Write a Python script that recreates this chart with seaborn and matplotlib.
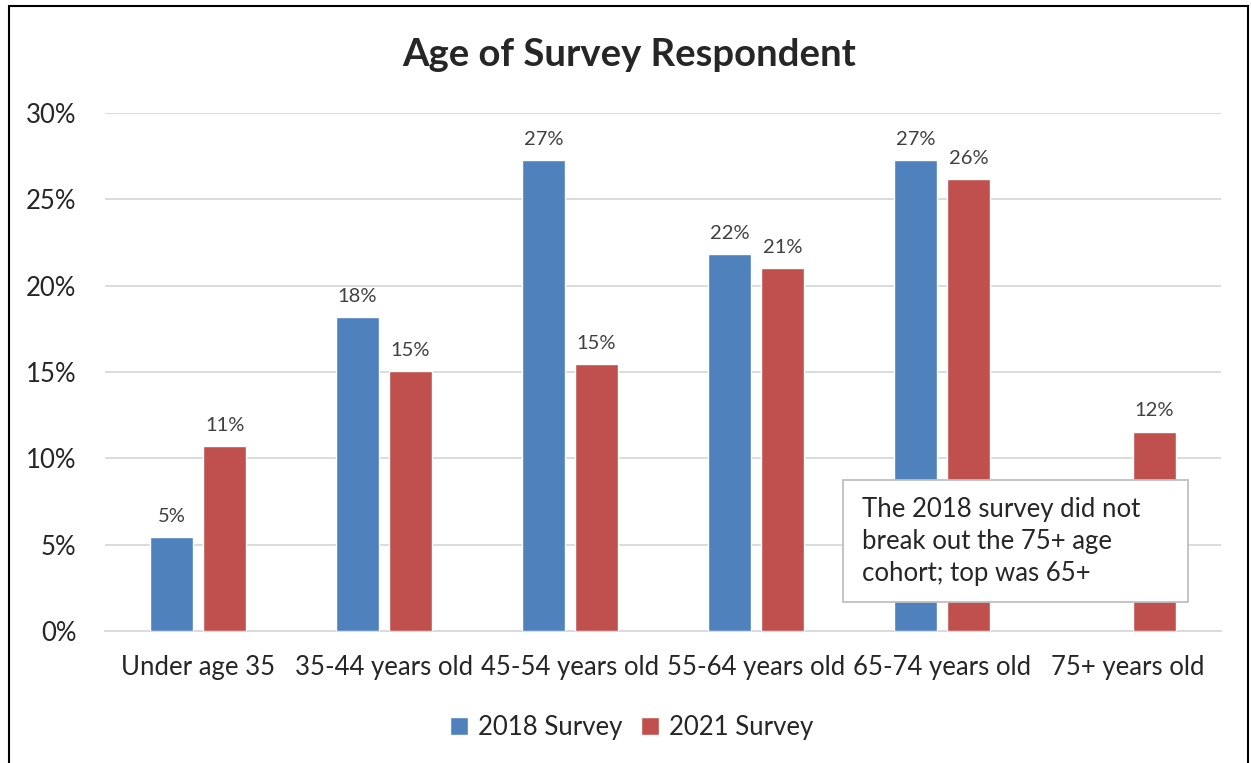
import numpy as np
import pandas as pd
import matplotlib
matplotlib.use('Agg')
import matplotlib.pyplot as plt
import seaborn as sb
from matplotlib.patches import Rectangle

# chart data
ages = ['Under age 35', '35-44 years old', '45-54 years old', '55-64 years old', '65-74 years old', '75+ years old']
surveys = ['2018 Survey', '2021 Survey']
pct_2018 = [0.0544, 0.1818, 0.2727, 0.2183, 0.2727, np.nan]
pct_2021 = [0.1071, 0.1505, 0.1546, 0.2102, 0.2617, 0.1154]
note = 'The 2018 survey did not\nbreak out the 75+ age\ncohort; top was 65+'

df = pd.DataFrame({'age': ages * 2,
                   'survey': [surveys[0]] * 6 + [surveys[1]] * 6,
                   'pct': pct_2018 + pct_2021})

sb.set_style('white')
plt.rcParams['font.family'] = ['Lato', 'DejaVu Sans']

fig = plt.figure(figsize=(12.51, 7.63), dpi=100)
ax = fig.add_axes([0.084, 0.173, 0.892, 0.679])

palette = {'2018 Survey': '#4F81BD', '2021 Survey': '#C0504D'}
sb.barplot(data=df, x='age', y='pct', hue='survey', order=ages, hue_order=surveys,
           palette=palette, width=0.57, gap=0.2, saturation=1, ax=ax, zorder=3)

# data labels
for cont in ax.containers:
    labels = ['' if np.isnan(v) else f'{v:.0%}' for v in cont.datavalues]
    ax.bar_label(cont, labels=labels, padding=9, fontsize=14.5, color='#404040')

ax.set_ylim(0, 0.30)
ax.set_yticks(np.arange(0, 0.31, 0.05))
ax.set_yticklabels([f'{int(round(t * 100))}%' for t in np.arange(0, 0.31, 0.05)], fontsize=18.5)
ax.tick_params(axis='x', labelsize=18.5, pad=14)
ax.tick_params(axis='y', pad=17)
ax.set_xlabel('')
ax.set_ylabel('')
ax.yaxis.grid(True, color='#d9d9d9', linewidth=1.3)
ax.set_axisbelow(True)
for s in ['top', 'right', 'left']:
    ax.spines[s].set_visible(False)
ax.spines['bottom'].set_color('#d9d9d9')
ax.spines['bottom'].set_linewidth(1.3)

fig.suptitle('Age of Survey Respondent', x=0.503, y=0.928, fontsize=27.5, fontweight='bold', va='center')

# note box
ax.add_patch(Rectangle((0.6613, 0.056), 0.3091, 0.2355, transform=ax.transAxes, facecolor='white',
                       edgecolor='#bfbfbf', linewidth=1.3, zorder=5))
ax.text(0.6783, 0.1718, note, transform=ax.transAxes, fontsize=18.5, va='center', ha='left',
        linespacing=1.35, zorder=6)

leg = ax.legend(loc='center', bbox_to_anchor=(0.505, 0.047), bbox_transform=fig.transFigure,
                ncol=2, frameon=False, fontsize=18.5, handlelength=0.7, handleheight=0.7,
                handletextpad=0.4, columnspacing=0.7)

# outer border
fig.patches.append(Rectangle((0.0075, -0.01), 0.990, 1.0025, transform=fig.transFigure,
                             fill=False, edgecolor='black', linewidth=1.5))

fig.savefig('out.png', dpi=100)
